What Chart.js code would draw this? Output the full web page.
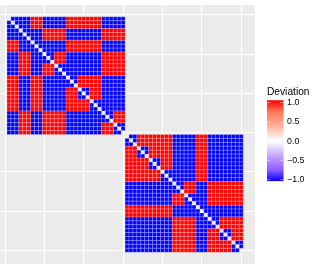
<!DOCTYPE html>
<html>
<head>
<meta charset="utf-8">
<script src="https://cdn.jsdelivr.net/npm/chart.js@4"></script>
<style>
    html, body { margin: 0; padding: 0; background: #fff; overflow: hidden; }
    #wrap { position: relative; width: 314px; height: 273px; }
    #heat { position: absolute; left: 0; top: 0; }
    #bar { position: absolute; left: 267px; top: 84px; }
</style>
</head>
<body>
<div id="wrap">
    <canvas id="heat" width="314" height="273"></canvas>
    <canvas id="bar" width="47" height="106"></canvas>
</div>
<script>
// + is deviation 1, - is deviation -1, . is an empty cell on the diagonal
const block1Rows = [
    ".-- --- +++ --- --- +++ +++ +++ --- ---",
    "-.- --- +++ --- --- +++ +++ +++ --- ---",
    "--. --- +++ --- --- +++ +++ +++ --- ---",
    "--- .-- --- +++ +++ --- --- --- +++ +++",
    "--- -.- --- +++ +++ --- --- --- +++ +++",
    "--- --. --- +++ +++ --- --- --- +++ +++",
    "+++ --- .-- --- --- +++ +++ +++ --- ---",
    "+++ --- -.- --- --- +++ +++ +++ --- ---",
    "+++ --- --. --- --- +++ +++ +++ --- ---",
    "--- +++ --- .-- +++ --- --- --- +++ +++",
    "--- +++ --- -.- +++ --- --- --- +++ +++",
    "--- +++ --- --. +++ --- --- --- +++ +++",
    "--- +++ --- +++ .-- --- --- --- +++ +++",
    "--- +++ --- +++ -.- --- --- --- +++ +++",
    "--- +++ --- +++ --. --- --- --- +++ +++",
    "+++ --- +++ --- --- .-- +++ +++ --- ---",
    "+++ --- +++ --- --- -.- +++ +++ --- ---",
    "+++ --- +++ --- --- --. +++ +++ --- ---",
    "+++ --- +++ --- --- +++ .-- +++ --- ---",
    "+++ --- +++ --- --- +++ -.- +++ --- ---",
    "+++ --- +++ --- --- +++ --. +++ --- ---",
    "+++ --- +++ --- --- +++ +++ .-- --- ---",
    "+++ --- +++ --- --- +++ +++ -.- --- ---",
    "+++ --- +++ --- --- +++ +++ --. --- ---",
    "--- +++ --- +++ +++ --- --- --- .-- +++",
    "--- +++ --- +++ +++ --- --- --- -.- +++",
    "--- +++ --- +++ +++ --- --- --- --. +++",
    "--- +++ --- +++ +++ --- --- --- +++ .--",
    "--- +++ --- +++ +++ --- --- --- +++ -.-",
    "--- +++ --- +++ +++ --- --- --- +++ --.",
];

const block2Rows = [
    ".-- +++ +++ +++ --- --- +++ --- --- ---",
    "-.- +++ +++ +++ --- --- +++ --- --- ---",
    "--. +++ +++ +++ --- --- +++ --- --- ---",
    "+++ .-- +++ +++ --- --- +++ --- --- ---",
    "+++ -.- +++ +++ --- --- +++ --- --- ---",
    "+++ --. +++ +++ --- --- +++ --- --- ---",
    "+++ +++ .-- +++ --- --- +++ --- --- ---",
    "+++ +++ -.- +++ --- --- +++ --- --- ---",
    "+++ +++ --. +++ --- --- +++ --- --- ---",
    "+++ +++ +++ .-- --- --- +++ --- --- ---",
    "+++ +++ +++ -.- --- --- +++ --- --- ---",
    "+++ +++ +++ --. --- --- +++ --- --- ---",
    "--- --- --- --- .-- +++ --- +++ +++ +++",
    "--- --- --- --- -.- +++ --- +++ +++ +++",
    "--- --- --- --- --. +++ --- +++ +++ +++",
    "--- --- --- --- +++ .-- --- +++ +++ +++",
    "--- --- --- --- +++ -.- --- +++ +++ +++",
    "--- --- --- --- +++ --. --- +++ +++ +++",
    "+++ +++ +++ +++ --- --- .-- --- --- ---",
    "+++ +++ +++ +++ --- --- -.- --- --- ---",
    "+++ +++ +++ +++ --- --- --. --- --- ---",
    "--- --- --- --- +++ +++ --- .-- +++ +++",
    "--- --- --- --- +++ +++ --- -.- +++ +++",
    "--- --- --- --- +++ +++ --- --. +++ +++",
    "--- --- --- --- +++ +++ --- +++ .-- +++",
    "--- --- --- --- +++ +++ --- +++ -.- +++",
    "--- --- --- --- +++ +++ --- +++ --. +++",
    "--- --- --- --- +++ +++ --- +++ +++ .--",
    "--- --- --- --- +++ +++ --- +++ +++ -.-",
    "--- --- --- --- +++ +++ --- +++ +++ --.",
];

const legendTitle = "Deviation";
const legendTicks = [1, 0.5, 0, -0.5, -1];
const legendLabels = ["1.0", "0.5", "0.0", "\u22120.5", "\u22121.0"];
const legendRange = [-1.04, 1.06];

const FONT_FAMILY = '"Liberation Sans", Arial, sans-serif';

function collectCells(rows, offset, sign) {
    const cells = [];
    rows.forEach(function (row, r) {
        row.replace(/ /g, "").split("").forEach(function (ch, c) {
            if (ch === sign) {
                cells.push({ x: offset + c + 1, y: offset + r + 1 });
            }
        });
    });
    return cells;
}

const redCells = collectCells(block1Rows, 0, "+").concat(collectCells(block2Rows, 30, "+"));
const blueCells = collectCells(block1Rows, 0, "-").concat(collectCells(block2Rows, 30, "-"));

// one x unit in pixels, rect points draw a square of side radius * sqrt(2)
function cellRadius(context) {
    const xScale = context.chart.scales.x;
    return Math.abs(xScale.getPixelForValue(1) - xScale.getPixelForValue(0)) / Math.SQRT2;
}

const panelBackground = {
    id: "panelBackground",
    beforeDraw: function (chart) {
        const area = chart.chartArea;
        chart.ctx.save();
        chart.ctx.fillStyle = "#EBEBEB";
        chart.ctx.fillRect(area.left, area.top, area.right - area.left, area.bottom - area.top);
        chart.ctx.restore();
    },
};

function cellDataset(label, data, color) {
    return {
        label: label,
        data: data,
        pointStyle: "rect",
        pointRadius: cellRadius,
        pointHoverRadius: cellRadius,
        pointBackgroundColor: color,
        pointBorderColor: "rgba(255, 255, 255, 0.75)",
        pointBorderWidth: 0.3,
    };
}

function gridAxis(min, max, reverse) {
    return {
        type: "linear",
        min: min,
        max: max,
        reverse: reverse,
        border: { display: false },
        grid: { color: "#FFFFFF", lineWidth: 1, drawTicks: false },
        ticks: { display: false, stepSize: 10, includeBounds: false },
    };
}

new Chart(document.getElementById("heat").getContext("2d"), {
    type: "scatter",
    data: {
        datasets: [cellDataset("1", redCells, "#FF0000"), cellDataset("-1", blueCells, "#0000FF")],
    },
    options: {
        responsive: false,
        animation: false,
        layout: { padding: { top: 5, right: 59, bottom: 9, left: 0 } },
        scales: {
            x: gridAxis(-1.27, 63.5, false),
            y: gridAxis(-2.5, 63.5, true),
        },
        plugins: {
            legend: { display: false },
            tooltip: { enabled: false },
        },
    },
    plugins: [panelBackground],
});

function legendGradient(context) {
    const chart = context.chart;
    if (!chart.chartArea) {
        return "#FFFFFF";
    }
    const y = chart.scales.y;
    const top = y.getPixelForValue(legendRange[1]);
    const bottom = y.getPixelForValue(legendRange[0]);
    const gradient = chart.ctx.createLinearGradient(0, top, 0, bottom);
    const stop = function (value, color) {
        gradient.addColorStop((y.getPixelForValue(value) - top) / (bottom - top), color);
    };
    // Lab-like steps of the red / white / blue ramp
    stop(legendRange[1], "#FF0000");
    stop(0.75, "#FF7B5A");
    stop(0.5, "#FF9E81");
    stop(0.25, "#FFCEBE");
    stop(0, "#FFFFFF");
    stop(-0.25, "#D9C5FF");
    stop(-0.5, "#B38BFF");
    stop(-0.75, "#8C5CFF");
    stop(legendRange[0], "#0000FF");
    return gradient;
}

// short white ticks on both edges of the colour bar
const colourBarTicks = {
    id: "colourBarTicks",
    afterDatasetsDraw: function (chart) {
        const area = chart.chartArea;
        const length = (area.right - area.left) / 5;
        const ctx = chart.ctx;
        ctx.save();
        ctx.strokeStyle = "#FFFFFF";
        ctx.lineWidth = 0.5;
        legendTicks.forEach(function (value) {
            const py = chart.scales.y.getPixelForValue(value);
            ctx.beginPath();
            ctx.moveTo(area.left, py);
            ctx.lineTo(area.left + length, py);
            ctx.moveTo(area.right - length, py);
            ctx.lineTo(area.right, py);
            ctx.stroke();
        });
        ctx.restore();
    },
};

new Chart(document.getElementById("bar").getContext("2d"), {
    type: "bar",
    data: {
        labels: [legendTitle],
        datasets: [
            {
                data: [legendRange],
                backgroundColor: legendGradient,
                barPercentage: 1,
                categoryPercentage: 1,
                borderWidth: 0,
            },
        ],
    },
    options: {
        responsive: false,
        animation: false,
        scales: {
            x: { display: false },
            y: {
                position: "right",
                min: legendRange[0],
                max: legendRange[1],
                border: { display: false },
                grid: { display: false, drawTicks: false },
                afterBuildTicks: function (scale) {
                    scale.ticks = legendTicks.map(function (value) {
                        return { value: value };
                    });
                },
                afterFit: function (scale) {
                    scale.width = 30.4;
                },
                ticks: {
                    color: "#000000",
                    padding: 3.5,
                    autoSkip: false,
                    font: { family: FONT_FAMILY, size: 8.8 },
                    callback: function (value) {
                        return legendLabels[legendTicks.indexOf(value)];
                    },
                },
            },
        },
        plugins: {
            legend: { display: false },
            tooltip: { enabled: false },
            title: {
                display: true,
                text: legendTitle,
                align: "start",
                color: "#000000",
                font: { family: FONT_FAMILY, size: 10.2, weight: "normal" },
                padding: { top: 2, bottom: 2 },
            },
        },
    },
    plugins: [colourBarTicks],
});
</script>
</body>
</html>
